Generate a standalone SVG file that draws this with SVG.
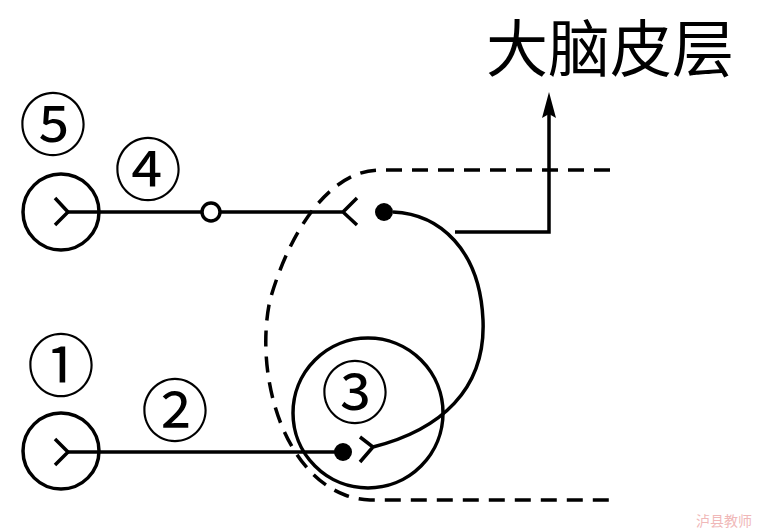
<svg xmlns="http://www.w3.org/2000/svg" width="761" height="531" viewBox="0 0 761 531">
<style>
.s{fill:none;stroke:#000;stroke-width:3.5}
.d{fill:none;stroke:#000;stroke-width:3.5;stroke-dasharray:16 10}
.n{font-family:"Noto Sans CJK SC","DejaVu Serif",serif;font-size:68px;text-anchor:middle}
</style>
<rect width="761" height="531" fill="#fff"/>
<g id="receptor5"><circle class="s" cx="61" cy="212" r="38"/><path class="s" d="M55 198L68 212L55 225"/></g>
<g id="receptor1"><circle class="s" cx="61" cy="451" r="38"/><path class="s" d="M55 439L68 452L55 465"/></g>
<g id="center3"><circle class="s" cx="368" cy="413" r="75"/></g>
<g id="boundary"><path class="d" d="M610 170H380C330 170 290 230 270 300C255 370 280 470 345 495Q355 499 370 500H612"/></g>
<g id="connectors">
<path class="s" d="M68 212H201"/>
<circle class="s" cx="211" cy="212" r="9" fill="#fff"/>
<path class="s" d="M221 212H343M357 198L343 212L357 225"/>
<circle cx="384" cy="212" r="9"/>
<path class="s" d="M393 212C440 214 480 250 483 320C486 390 440 430 373 447M360 437L373 447L360 462"/>
<path class="s" d="M455 232H549V110"/>
<path d="M549 92L542 118L549 114L556 118Z"/>
<path class="s" d="M68 452H336"/>
<circle cx="343" cy="452" r="9"/>
</g>
<g id="labels">
<text class="n" x="53" y="150">⑤</text>
<text class="n" x="148" y="195">④</text>
<text class="n" x="61" y="391">①</text>
<text class="n" x="175" y="436">②</text>
<text class="n" x="355" y="418">③</text>
<text x="610" y="72" font-family="Noto Sans CJK SC,sans-serif" font-size="62" text-anchor="middle">大脑皮层</text>
<text x="724" y="526" font-family="Noto Sans CJK SC,sans-serif" font-size="14" fill="#f0b8b8" text-anchor="middle">泸县教师</text>
</g>
</svg>
